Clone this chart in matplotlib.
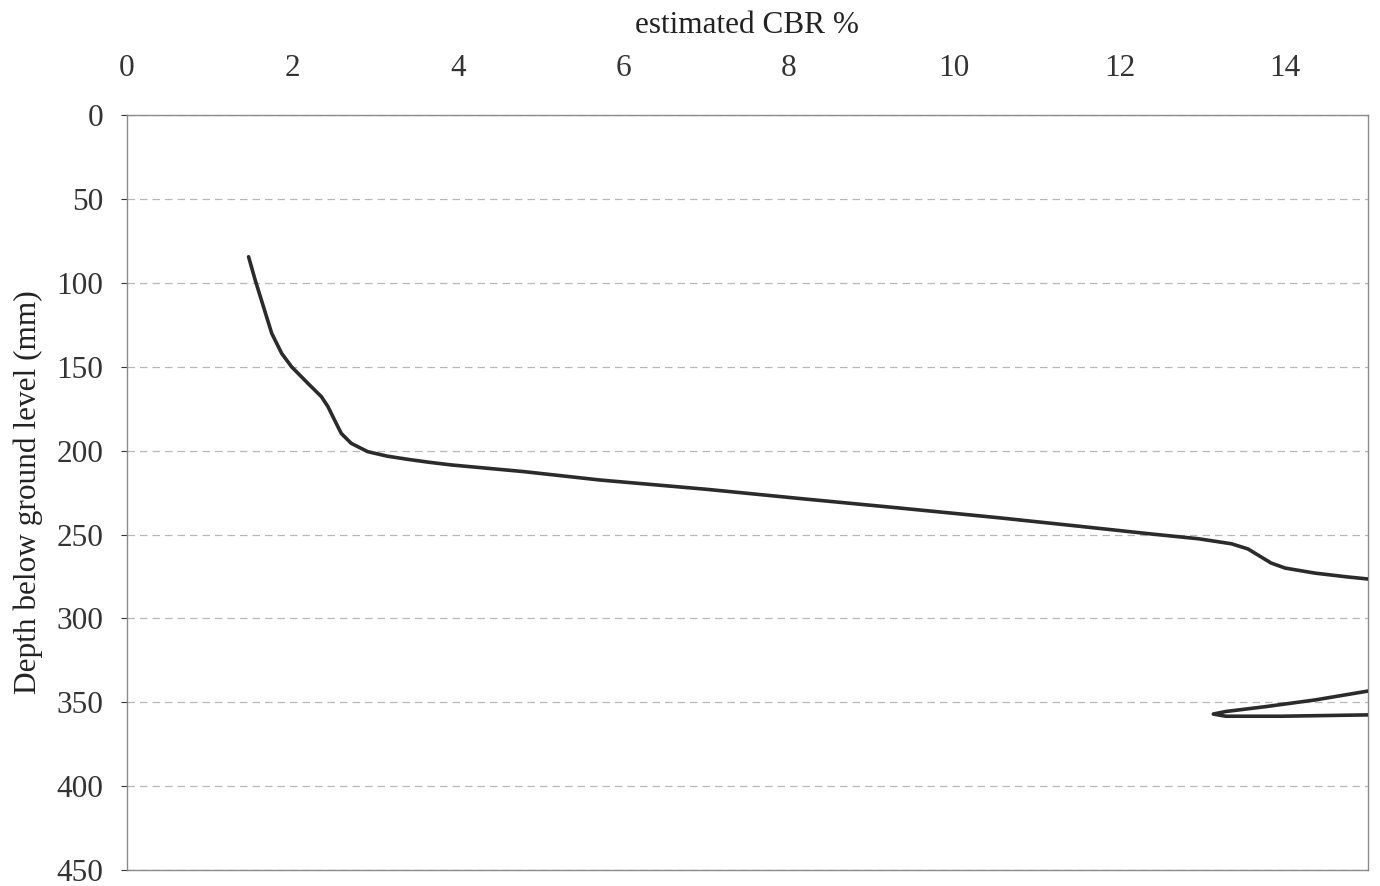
import matplotlib
matplotlib.use("Agg")
import matplotlib.pyplot as plt

# estimated CBR (%) vs depth below ground level (mm)
cbr = [1.47, 1.55, 1.65, 1.75, 1.87, 1.99, 2.19, 2.35, 2.43, 2.51, 2.59, 2.71,
       2.91, 3.15, 3.40, 3.65, 3.92, 4.8, 5.72, 7.0, 8.13, 9.3, 10.54, 11.5,
       12.35, 12.95, 13.35, 13.55, 13.67, 13.83, 14.0, 14.36, 14.76, 15.0,
       16.0, 18.0, 18.0, 16.0, 15.0, 14.36, 13.76, 13.28, 13.13, 13.28, 13.95,
       15.0, 16.5]
depth = [84.4, 98.3, 114.2, 130.1, 142.0, 150.0, 160.0, 167.8, 173.8, 181.8,
         189.7, 195.6, 200.6, 203.3, 205.2, 206.9, 208.5, 212.5, 217.5, 223.0,
         228.5, 234.0, 240.0, 245.0, 249.5, 252.5, 255.5, 258.6, 262.2, 267.0,
         270.0, 273.0, 275.3, 276.5, 280.0, 300.0, 330.0, 341.0, 343.3, 348.6,
         352.6, 355.5, 357.0, 358.3, 358.3, 357.5, 357.3]

x_ticks = [0, 2, 4, 6, 8, 10, 12, 14]
y_ticks = [0, 50, 100, 150, 200, 250, 300, 350, 400, 450]

plt.rcParams['font.family'] = ['Liberation Serif', 'DejaVu Serif']

fig = plt.figure(figsize=(13.8, 8.86), dpi=100)
ax = fig.add_axes([0.092, 0.018, 0.8993, 0.852])

ax.plot(cbr, depth, color='#2b2b2b', linewidth=2.6, solid_capstyle='round',
        solid_joinstyle='round', zorder=3)

ax.set_xlim(0, 15)
ax.set_ylim(450, 0)
ax.xaxis.tick_top()
ax.xaxis.set_label_position('top')
ax.set_xticks(x_ticks)
ax.set_yticks(y_ticks)
ax.tick_params(axis='x', length=0, pad=23, labelsize=22.5, colors='#333333')
ax.tick_params(axis='y', length=4, width=0.8, pad=13, labelsize=22.5,
               colors='#333333', direction='out')
ax.set_xlabel('estimated CBR %', fontsize=22.5, color='#222222', labelpad=15)
ax.set_ylabel('Depth below ground level (mm)', fontsize=22.5, color='#222222',
              labelpad=10)

ax.yaxis.grid(True, color='#b8b8b8', linestyle=(0, (6, 4)), linewidth=0.9)
ax.xaxis.grid(False)
for s in ax.spines.values():
    s.set_color('#8a8a8a')
    s.set_linewidth(1.0)

fig.savefig('out.png', dpi=100)
